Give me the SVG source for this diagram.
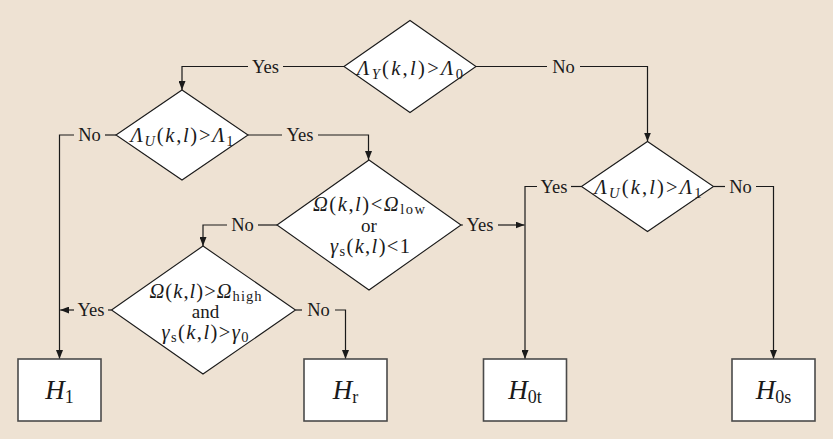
<svg xmlns="http://www.w3.org/2000/svg" width="833" height="439" viewBox="0 0 833 439">
<defs>
<marker id="arr" markerUnits="userSpaceOnUse" markerWidth="9" markerHeight="7" refX="9" refY="3.5" orient="auto">
<path d="M0,0 L9,3.5 L0,7 z" fill="#1a1a1a"/>
</marker>
<style>
.bg{fill:#EEE2D3}
.dia{fill:#fff;stroke:#1a1a1a;stroke-width:1.1}
.box{fill:#fff;stroke:#4a4a4a;stroke-width:1.6}
.ln{fill:none;stroke:#1a1a1a;stroke-width:1.2}
.lbl{font-family:"Liberation Serif","Times New Roman",serif;font-size:18.5px;fill:#1a1a1a;text-anchor:middle}
.mt{font-family:"Liberation Serif","Times New Roman",serif;font-size:20.5px;fill:#1a1a1a;text-anchor:middle}
.wd{font-family:"Liberation Serif","Times New Roman",serif;font-size:19px;fill:#1a1a1a;text-anchor:middle}
.it{font-style:italic}
.sub{font-size:14.5px}
.hb{font-family:"Liberation Serif","Times New Roman",serif;font-size:27px;fill:#1a1a1a;text-anchor:middle}
.hs{font-size:18px;font-style:normal}
</style>
</defs>
<rect class="bg" x="0" y="0" width="833" height="439"/>

<g id="connectors">
<path class="ln" d="M344,66.5 H283"/>
<path class="ln" d="M248,66.5 H182 V90" marker-end="url(#arr)"/>
<path class="ln" d="M476,66.5 H547"/>
<path class="ln" d="M580,66.5 H647.5 V141.5" marker-end="url(#arr)"/>
<path class="ln" d="M116,135 H105"/>
<path class="ln" d="M74,135 H59.5 V359" marker-end="url(#arr)"/>
<path class="ln" d="M248,135 H282"/>
<path class="ln" d="M318,135 H368.5 V160" marker-end="url(#arr)"/>
<path class="ln" d="M277,225 H258"/>
<path class="ln" d="M227,225 H203 V246" marker-end="url(#arr)"/>
<path class="ln" d="M461,225 H463"/>
<path class="ln" d="M498,225 H524.5" marker-end="url(#arr)"/>
<path class="ln" d="M581.5,186.5 H571"/>
<path class="ln" d="M537,186.5 H525 V359" marker-end="url(#arr)"/>
<path class="ln" d="M713.5,186.5 H725"/>
<path class="ln" d="M756,186.5 H773.5 V359" marker-end="url(#arr)"/>
<path class="ln" d="M111.5,310 H108"/>
<path class="ln" d="M74,310 H60.2" marker-end="url(#arr)"/>
<path class="ln" d="M295.5,310 H302"/>
<path class="ln" d="M335,310 H345.5 V359" marker-end="url(#arr)"/>
<text class="lbl" x="265.5" y="72.5">Yes</text>
<text class="lbl" x="563.5" y="72.5">No</text>
<text class="lbl" x="89.5" y="141">No</text>
<text class="lbl" x="300" y="141">Yes</text>
<text class="lbl" x="242.5" y="231">No</text>
<text class="lbl" x="480" y="231">Yes</text>
<text class="lbl" x="554" y="192.5">Yes</text>
<text class="lbl" x="740.5" y="192.5">No</text>
<text class="lbl" x="91" y="316">Yes</text>
<text class="lbl" x="318.5" y="316">No</text>
</g>

<g id="d1">
<polygon class="dia" points="344,66.5 410,20.5 476,66.5 410,112.5"/>
<text class="mt" x="410" y="74.5" textLength="106" lengthAdjust="spacing"><tspan class="it">Λ</tspan><tspan class="it sub" dy="4">Y</tspan><tspan dy="-4">(</tspan><tspan class="it">k</tspan>,<tspan class="it">l</tspan>)&gt;<tspan class="it">Λ</tspan><tspan class="sub" dy="4">0</tspan></text>
</g>

<g id="d2">
<polygon class="dia" points="116,135 182,90 248,135 182,180"/>
<text class="mt" x="182" y="142" textLength="103" lengthAdjust="spacing"><tspan class="it">Λ</tspan><tspan class="it sub" dy="4">U</tspan><tspan dy="-4">(</tspan><tspan class="it">k</tspan>,<tspan class="it">l</tspan>)&gt;<tspan class="it">Λ</tspan><tspan class="sub" dy="4">1</tspan></text>
</g>

<g id="d3">
<polygon class="dia" points="277,225 369,160 461,225 369,290"/>
<text class="mt" x="369" y="211" textLength="112" lengthAdjust="spacing"><tspan class="it">Ω</tspan>(<tspan class="it">k</tspan>,<tspan class="it">l</tspan>)&lt;<tspan class="it">Ω</tspan><tspan class="sub" dy="3">low</tspan></text>
<text class="wd" x="369" y="231.5">or</text>
<text class="mt" x="370" y="253" textLength="80" lengthAdjust="spacing"><tspan class="it">γ</tspan><tspan class="sub" dy="3">s</tspan><tspan dy="-3">(</tspan><tspan class="it">k</tspan>,<tspan class="it">l</tspan>)&lt;1</text>
</g>

<g id="d4">
<polygon class="dia" points="111.5,310 203,246 295.5,310 203,374"/>
<text class="mt" x="205.5" y="297.5" textLength="112" lengthAdjust="spacing"><tspan class="it">Ω</tspan>(<tspan class="it">k</tspan>,<tspan class="it">l</tspan>)&gt;<tspan class="it">Ω</tspan><tspan class="sub" dy="3">high</tspan></text>
<text class="wd" x="205.5" y="317.5">and</text>
<text class="mt" x="205" y="338.5" textLength="87" lengthAdjust="spacing"><tspan class="it">γ</tspan><tspan class="sub" dy="3">s</tspan><tspan dy="-3">(</tspan><tspan class="it">k</tspan>,<tspan class="it">l</tspan>)&gt;<tspan class="it">γ</tspan><tspan class="sub" dy="3">0</tspan></text>
</g>

<g id="d5">
<polygon class="dia" points="581.5,186.5 647.5,141.5 713.5,186.5 647.5,231.5"/>
<text class="mt" x="648" y="193.5" textLength="107" lengthAdjust="spacing"><tspan class="it">Λ</tspan><tspan class="it sub" dy="4">U</tspan><tspan dy="-4">(</tspan><tspan class="it">k</tspan>,<tspan class="it">l</tspan>)&gt;<tspan class="it">Λ</tspan><tspan class="sub" dy="4">1</tspan></text>
</g>

<g id="h1">
<rect class="box" x="18" y="359" width="83" height="62"/>
<text class="hb" x="59.5" y="398.5"><tspan class="it">H</tspan><tspan class="hs" dy="4">1</tspan></text>
</g>
<g id="hr">
<rect class="box" x="304" y="359" width="83" height="62"/>
<text class="hb" x="345.5" y="398.5"><tspan class="it">H</tspan><tspan class="hs" dy="4">r</tspan></text>
</g>
<g id="h0t">
<rect class="box" x="483.5" y="359" width="83" height="62"/>
<text class="hb" x="525" y="398.5"><tspan class="it">H</tspan><tspan class="hs" dy="4">0t</tspan></text>
</g>
<g id="h0s">
<rect class="box" x="732" y="359" width="83" height="62"/>
<text class="hb" x="773.5" y="398.5"><tspan class="it">H</tspan><tspan class="hs" dy="4">0s</tspan></text>
</g>
</svg>
